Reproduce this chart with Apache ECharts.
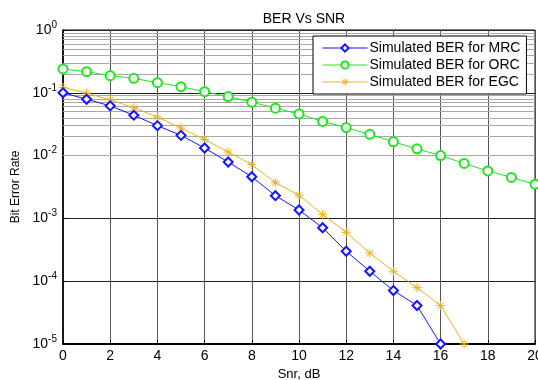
<!DOCTYPE html>
<html>
<head>
<meta charset="utf-8">
<script src="https://cdn.jsdelivr.net/npm/echarts@6/dist/echarts.min.js"></script>
<style>
  html, body { margin: 0; padding: 0; background: #fff; }
  #chart { width: 538px; height: 380px; }
</style>
</head>
<body>
<div id="chart"></div>
<script>
// SNR values, dB
const snr = [0, 1, 2, 3, 4, 5, 6, 7, 8, 9, 10, 11, 12, 13, 14, 15, 16, 17, 18, 19, 20];

// BER
const berMRC = [0.1, 0.079, 0.062, 0.044, 0.030, 0.021, 0.0132, 0.0079, 0.0046, 0.0023,
  0.00136, 0.00071, 0.0003, 0.000144, 0.000071, 0.000041, 0.00001];
const berORC = [0.24, 0.217, 0.187, 0.170, 0.145, 0.125, 0.104, 0.087, 0.071, 0.057,
  0.046, 0.035, 0.028, 0.0218, 0.0166, 0.0128, 0.0100, 0.0075, 0.0057, 0.0045, 0.0035];
const berEGC = [0.122, 0.099, 0.077, 0.058, 0.041, 0.0275, 0.018, 0.0114, 0.0072, 0.0037,
  0.00234, 0.00116, 0.0006, 0.00028, 0.000144, 0.000079, 0.000041, 0.00001];

const legendNames = ['Simulated BER for MRC', 'Simulated BER for ORC', 'Simulated BER for EGC'];

function pairs(ys) {
  return ys.map((v, i) => [snr[i], v]);
}

// minor grid lines 2..9 in each decade
let minorLines = [];
for (let d = -5; d < 0; d++) {
  for (let m = 2; m <= 9; m++) {
    minorLines.push({ yAxis: m * Math.pow(10, d) });
  }
}

const font = 'Liberation Sans, Arial, sans-serif';
const asterisk = 'path://M0,-5L0,5M-5,0L5,0M-3.6,-3.6L3.6,3.6M-3.6,3.6L3.6,-3.6';

const chart = echarts.init(document.getElementById('chart'), null, { renderer: 'canvas' });
const option = {
  animation: false,
  backgroundColor: '#fff',
  textStyle: { fontFamily: font, color: '#000' },
  title: {
    text: 'BER Vs SNR',
    left: 299,
    textAlign: 'center',
    top: 7,
    textStyle: { fontFamily: font, fontSize: 14, fontWeight: 'normal', color: '#000' }
  },
  grid: {
    left: 63, right: 3, top: 30, bottom: 36,
    outerBoundsMode: 'none',
    containLabel: false,
    show: true, borderColor: '#000', borderWidth: 1
  },
  legend: {
    data: legendNames,
    orient: 'vertical',
    left: 313,
    top: 36,
    z: 20,
    padding: [4, 6, 4, 9],
    itemGap: 1,
    itemWidth: 45,
    itemHeight: 9,
    backgroundColor: '#fff',
    borderColor: '#000',
    borderWidth: 1,
    lineStyle: { width: 1 },
    itemStyle: { borderWidth: 1 },
    textStyle: { fontFamily: font, fontSize: 14, lineHeight: 16, color: '#000', padding: [0, 0, 0, -3] }
  },
  xAxis: {
    type: 'value',
    min: 0, max: 20, interval: 2,
    name: 'Snr, dB',
    nameLocation: 'middle',
    nameGap: 21,
    nameTextStyle: { fontFamily: font, fontSize: 13, color: '#000' },
    axisLine: { show: true, lineStyle: { color: '#000', width: 2 } },
    axisTick: { show: true, inside: true, length: 4, lineStyle: { color: '#000' } },
    axisLabel: { fontFamily: font, fontSize: 14, color: '#000', margin: 5 },
    splitLine: { show: true, lineStyle: { color: '#555', width: 1 } }
  },
  yAxis: {
    type: 'log',
    logBase: 10,
    min: 1e-5, max: 1,
    name: 'Bit Error Rate',
    nameLocation: 'middle',
    nameGap: 40,
    nameTextStyle: { fontFamily: font, fontSize: 12, color: '#000' },
    axisLine: { show: true, lineStyle: { color: '#000', width: 1.5 } },
    axisTick: { show: true, inside: true, length: 4, lineStyle: { color: '#000' } },
    axisLabel: {
      fontFamily: font,
      color: '#000',
      margin: 6,
      formatter: function (v) {
        const e = Math.round(Math.log10(v));
        return '{b|10}{s|' + e + '}';
      },
      rich: {
        b: { fontFamily: font, fontSize: 14, color: '#000' },
        s: { fontFamily: font, fontSize: 10, color: '#000', padding: [0, 0, 10, 0] }
      }
    },
    splitLine: { show: true, lineStyle: { color: '#222', width: 1 } }
  },
  series: [
    {
      name: 'minor',
      type: 'line',
      data: [[0, 1], [20, 1]],
      symbol: 'none',
      lineStyle: { opacity: 0 },
      silent: true,
      z: 1,
      markLine: {
        silent: true,
        symbol: 'none',
        z: 1,
        label: { show: false },
        lineStyle: { color: '#a8a8a8', type: 'solid', width: 1 },
        data: minorLines
      }
    },
    {
      name: legendNames[0],
      type: 'line',
      data: pairs(berMRC),
      color: '#1414ff',
      symbol: 'emptyDiamond',
      symbolSize: 9,
      lineStyle: { width: 1 },
      itemStyle: { borderWidth: 1 },
      z: 4
    },
    {
      name: legendNames[1],
      type: 'line',
      data: pairs(berORC),
      color: '#1ee61e',
      symbol: 'emptyCircle',
      symbolSize: 9,
      lineStyle: { width: 1 },
      itemStyle: { borderWidth: 1 },
      z: 3
    },
    {
      name: legendNames[2],
      type: 'line',
      data: pairs(berEGC),
      color: '#edb120',
      symbol: asterisk,
      symbolSize: 9,
      lineStyle: { width: 1 },
      itemStyle: { color: '#edb120', borderColor: '#edb120', borderWidth: 1 },
      z: 3
    }
  ]
};
chart.setOption(option);
</script>
</body>
</html>
